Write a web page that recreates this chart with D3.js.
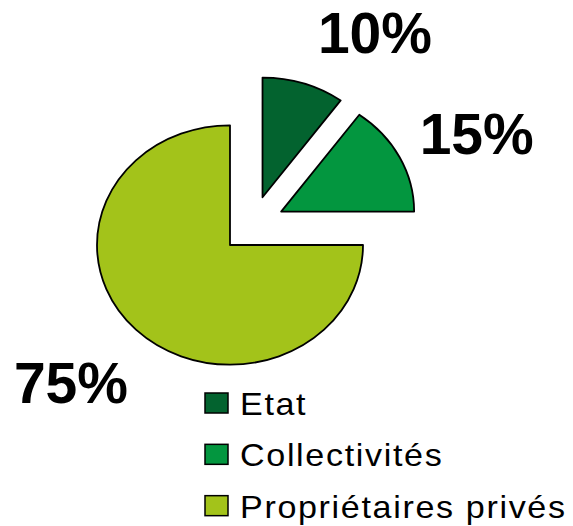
<!DOCTYPE html>
<html>
<head>
<meta charset="utf-8">
<script src="https://cdn.jsdelivr.net/npm/d3@7"></script>
<style>
  html, body { margin: 0; padding: 0; background: #fff; }
  svg { display: block; }
  text { font-family: "Liberation Sans", Arial, sans-serif; }
</style>
</head>
<body>
<script>
// Data
const categories = ['Etat', 'Collectivités', 'Propriétaires privés'];
const values = [10, 15, 75];
const labels = ['10%', '15%', '75%'];
const colors = ['#03632F', '#03963F', '#A3C31A'];

// Layout
const w = 573;
const h = 526;
const cx = 230;
const cy = 245;
const radius = 133;
const squash = 0.9;          // pie is drawn slightly flattened
const explode = 32;          // distance pulled out for the public slices
const labelRadius = 215;
const labelNudge = [[46, 19], [4, 10], [-7, 1]];

const svg = d3.select('body')
  .append('svg')
  .attr('width', w)
  .attr('height', h);

const slices = d3.pie().sort(null).value(d => d)(values);
const arc = d3.arc().innerRadius(0).outerRadius(radius);

// Etat + Collectivités are pulled out as a group, then each on its own midline
const groupMid = slices[1].endAngle / 2;
function offset(d, i) {
  if (i > 1) return [0, 0];
  const mid = (d.startAngle + d.endAngle) / 2;
  return [
    explode * Math.sin(groupMid) + explode * Math.sin(mid),
    -explode * Math.cos(groupMid) - explode * Math.cos(mid)
  ];
}

const pie = svg.append('g')
  .attr('transform', `translate(${cx},${cy}) scale(1,${squash})`);

pie.selectAll('path')
  .data(slices)
  .enter()
  .append('path')
  .attr('d', arc)
  .attr('transform', (d, i) => `translate(${offset(d, i)})`)
  .attr('fill', (d, i) => colors[i])
  .attr('stroke', '#000')
  .attr('stroke-width', 1.8)
  .attr('stroke-linejoin', 'round')
  .attr('vector-effect', 'non-scaling-stroke');

// Percent labels
const labelArc = d3.arc().innerRadius(labelRadius).outerRadius(labelRadius);
svg.selectAll('.pct')
  .data(slices)
  .enter()
  .append('text')
  .attr('class', 'pct')
  .attr('x', (d, i) => cx + labelArc.centroid(d)[0] + offset(d, i)[0] + labelNudge[i][0])
  .attr('y', (d, i) => cy + (labelArc.centroid(d)[1] + offset(d, i)[1]) * squash + labelNudge[i][1])
  .attr('dy', '0.36em')
  .attr('text-anchor', 'middle')
  .attr('font-size', '57px')
  .attr('font-weight', 'bold')
  .text((d, i) => labels[i]);

// Legend
const legendY = d3.scaleBand()
  .domain(categories)
  .range([386, 540])
  .paddingInner(0);

const legend = svg.selectAll('.legend')
  .data(categories)
  .enter()
  .append('g')
  .attr('class', 'legend')
  .attr('transform', d => `translate(205,${legendY(d)})`);

legend.append('rect')
  .attr('x', 0)
  .attr('y', 7)
  .attr('width', 23)
  .attr('height', 20)
  .attr('fill', (d, i) => colors[i])
  .attr('stroke', '#000')
  .attr('stroke-width', 1.5);

legend.append('text')
  .attr('transform', 'translate(35,29) scale(1.1,1)')
  .attr('font-size', '31px')
  .attr('letter-spacing', '1.5px')
  .text(d => d);
</script>
</body>
</html>
